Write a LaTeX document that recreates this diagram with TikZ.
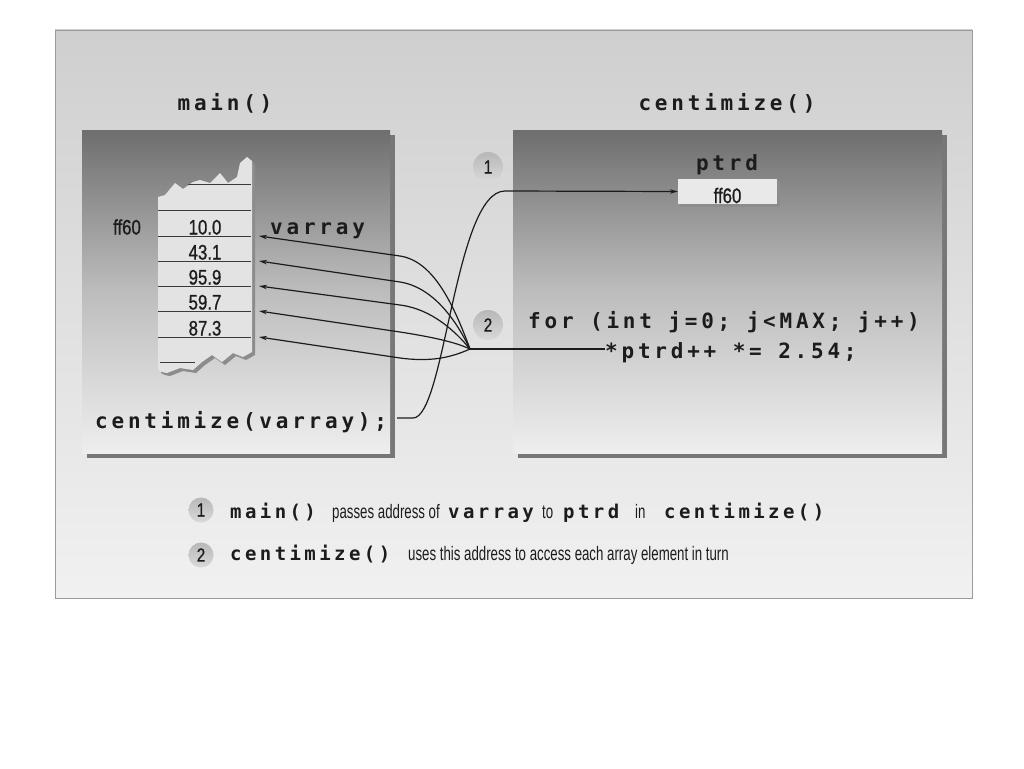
\documentclass[tikz,border=0pt]{standalone}
\usepackage{fontspec}
\usetikzlibrary{arrows.meta}
\newfontfamily\codefont[LetterSpace=18]{DejaVu Sans Mono}
\newfontfamily\narrowfont[FakeStretch=0.8,FakeBold=0.8]{Liberation Sans}
\newfontfamily\legfont[FakeStretch=0.68]{Liberation Sans}
\definecolor{ink}{HTML}{1C1C1C}
\definecolor{panelTop}{HTML}{CFCFCF}
\definecolor{panelBot}{HTML}{F1F1F1}
\definecolor{panelEdge}{HTML}{9A9A9A}
\definecolor{boxTop}{HTML}{6E6E6E}
\definecolor{boxMid}{HTML}{BDBDBD}
\definecolor{boxBot}{HTML}{EEEEEE}
\definecolor{shadowc}{HTML}{777777}
\definecolor{cellfill}{HTML}{E3E3E3}
\definecolor{cellshadow}{HTML}{8C8C8C}
\definecolor{cellline}{HTML}{3A3A3A}
\definecolor{numTop}{HTML}{B8B8B8}
\definecolor{numBot}{HTML}{D9D9D9}
\definecolor{ptrdfill}{HTML}{E9E9E9}
\begin{document}
\begin{tikzpicture}[x=1pt,y=-1pt,
  code/.style={font=\codefont\bfseries\fontsize{21}{25}\selectfont, text=ink, inner sep=0pt},
  legcode/.style={font=\codefont\bfseries\fontsize{19}{23}\selectfont, text=ink, inner sep=0pt},
  val/.style={font=\narrowfont\fontsize{21}{25}\selectfont, text=ink, inner sep=0pt},
  legtext/.style={font=\legfont\fontsize{19.5}{23}\selectfont, text=ink, inner sep=0pt},
  num/.style={circle, inner sep=0pt, minimum size=30pt, top color=numTop, bottom color=numBot, font=\narrowfont\fontsize{19}{22}\selectfont, text=ink},
  smallnum/.style={num, minimum size=25pt},
  conn/.style={draw=ink, line width=1.2pt},
  tip/.style={-{Stealth[length=8pt,width=4.5pt]}},
  gridline/.style={draw=cellline, line width=0.9pt}
]
\useasboundingbox (0,0) rectangle (1024,768);
\fill[white] (0,0) rectangle (1024,768);
% panel
\shade[top color=panelTop, bottom color=panelBot] (55,30) rectangle (972,598);
\draw[panelEdge, line width=0.8pt] (55,30) rectangle (972,598);
% boxes with shadows
\fill[shadowc] (87,135) rectangle (395,458);
\shade[top color=boxTop, bottom color=boxBot, middle color=boxMid] (82,130) rectangle (390,453);
\fill[shadowc] (518,135) rectangle (947,458);
\shade[top color=boxTop, bottom color=boxBot, middle color=boxMid] (513,130) rectangle (942,453);
% titles
\node[code, anchor=base] (tmain) at (225,110) {main()};
\node[code, anchor=base] (tcent) at (727,110) {centimize()};
% memory column
\def\colpath{(158,197) -- (165,195) -- (175,183) -- (183,189) -- (193,182) -- (200,180) -- (210,183) -- (220,173) -- (228,183) -- (237,177) -- (240,163) -- (247,157) -- (252,161) -- (252,352) -- (243,357) -- (233,353) -- (222,362) -- (212,355) -- (202,362) -- (193,370) -- (180,368) -- (167,373) -- (162,372) -- (158,370) -- cycle}
\fill[cellshadow, xshift=3pt, yshift=-3pt] \colpath;
\fill[cellfill] \colpath;
\draw[gridline] (188,184) -- (251,184);
\foreach \yy in {210,236,261,286,311,337} {\draw[gridline] (158,\yy) -- (251,\yy);}
\draw[gridline] (160,362) -- (195,362);
\node[val, anchor=base] (v1) at (205,234.5) {10.0};
\node[val, anchor=base] (v2) at (205,259.5) {43.1};
\node[val, anchor=base] (v3) at (205,284.5) {95.9};
\node[val, anchor=base] (v4) at (205,309.5) {59.7};
\node[val, anchor=base] (v5) at (205,335.5) {87.3};
\node[val, anchor=base] (addr) at (127,234.5) {ff60};
\node[code, anchor=base west] (varr) at (270,234) {varray};
\node[code, anchor=base west] (call) at (95,428) {centimize(varray);};
% right box contents
\node[code, anchor=base] (ptrdlbl) at (727,170) {ptrd};
\fill[cellshadow] (680,181) rectangle (780,207);
\node[draw=none, fill=ptrdfill, minimum width=99pt, minimum height=25pt, inner sep=0pt] (ptrd) at (727.5,191.5) {};
\node[val, anchor=base] (ptrdval) at (727.5,203) {ff60};
\node[num] (n1) at (488,167) {1};
\node[num] (n2) at (488,325) {2};
\node[code, anchor=base west] (forl) at (528,328) {for (int j=0; j<MAX; j++)};
\node[code, anchor=base west] (body) at (605,358) {*ptrd++ *= 2.54;};
% connectors
\coordinate (hub) at (470,349);
\coordinate (t1) at (259,236);
\coordinate (t2) at (259,261);
\coordinate (t3) at (259,286);
\coordinate (t4) at (259,311);
\coordinate (t5) at (259,337);
\coordinate (callend) at (397,418);
\draw[conn] (hub) -- (body.west |- hub);
\draw[conn,tip] (hub) .. controls (452,300) and (432,261) .. (400,256) -- (t1);
\draw[conn,tip] (hub) .. controls (455,318) and (432,287) .. (400,282) -- (t2);
\draw[conn,tip] (hub) .. controls (456,332) and (432,309) .. (400,305) -- (t3);
\draw[conn,tip] (hub) .. controls (455,342) and (432,337) .. (400,332) -- (t4);
\draw[conn,tip] (hub) .. controls (450,358) and (430,362) .. (400,358) -- (t5);
\draw[conn,tip] (callend) -- (413,418) .. controls (445,418) and (455,191) .. (505,191) -- (ptrd.west);
% legend
\node[smallnum] (l1) at (201,510) {1};
\node[smallnum] (l2) at (201,555) {2};
\node[legcode, anchor=base west] (lm) at (230,518) {main()};
\node[legtext, anchor=base west] (lpa) at (332,518) {passes address of};
\node[legcode, anchor=base west] (lva) at (448,518) {varray};
\node[legtext, anchor=base west] (lto) at (542,518) {to};
\node[legcode, anchor=base west] (lpt) at (563,518) {ptrd};
\node[legtext, anchor=base west] (lin) at (635,518) {in};
\node[legcode, anchor=base west] (lce) at (664,518) {centimize()};
\node[legcode, anchor=base west] (lce2) at (230,560) {centimize()};
\node[legtext, anchor=base west] (luse) at (408,560) {uses this address to access each array element in turn};
\end{tikzpicture}
\end{document}
